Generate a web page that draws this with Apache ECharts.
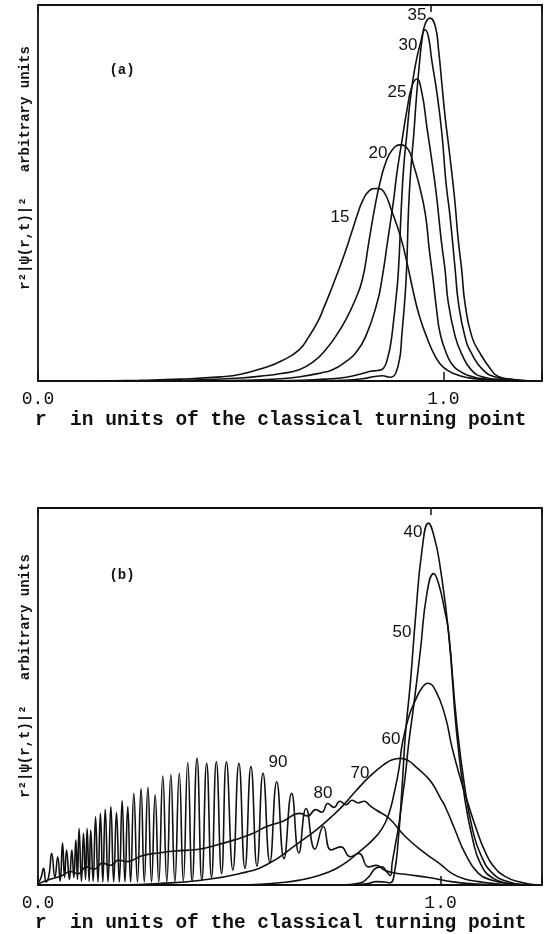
<!DOCTYPE html>
<html>
<head>
<meta charset="utf-8">
<script src="https://cdn.jsdelivr.net/npm/echarts@6/dist/echarts.min.js"></script>
<style>
  html, body { margin: 0; padding: 0; background: #fff; }
  #chart { width: 545px; height: 934px; }
</style>
</head>
<body>
<div id="chart"></div>
<script>
// panel (a): r in units of the classical turning point, height in % of the frame
const a15 = [[0.15,0],[0.25,0.2],[0.35,0.5],[0.45,1.1],[0.50,1.8],[0.56,3.6],[0.60,5.3],[0.644,8.3],[0.668,11.8],[0.69,15.8],[0.705,19.5],[0.72,23.5],[0.738,28.5],[0.755,33.5],[0.775,40.0],[0.79,45.0],[0.80,47.8],[0.816,50.5],[0.835,51.2],[0.853,50.3],[0.873,45.0],[0.894,38.4],[0.910,31.5],[0.925,24.0],[0.94,17.5],[0.96,11.3],[0.98,6.5],[1.0,3.6],[1.03,1.8],[1.06,0.9],[1.10,0.4],[1.15,0.1],[1.2,0]];
const a20 = [[0.2,0],[0.3,0.1],[0.4,0.3],[0.5,0.8],[0.55,1.3],[0.6,2.0],[0.644,3.0],[0.68,5.2],[0.71,8.4],[0.735,12.0],[0.76,16.5],[0.78,21.0],[0.80,27.0],[0.816,37.0],[0.832,47.0],[0.844,53.0],[0.857,57.9],[0.873,61.4],[0.894,62.8],[0.914,61.4],[0.926,57.5],[0.939,52.6],[0.955,44.6],[0.965,35.0],[0.975,26.5],[0.983,19.0],[0.992,12.5],[1.007,7.4],[1.02,4.6],[1.037,2.8],[1.06,1.5],[1.09,0.7],[1.13,0.2],[1.18,0]];
const a25 = [[0.4,0],[0.5,0.2],[0.6,0.6],[0.65,1.2],[0.70,2.2],[0.725,2.9],[0.76,5.2],[0.783,7.4],[0.808,11.8],[0.836,20.7],[0.848,26.9],[0.862,37.0],[0.877,48.1],[0.885,55.2],[0.898,64.1],[0.910,72.1],[0.922,78.3],[0.934,80.3],[0.947,76.5],[0.959,67.6],[0.971,58.8],[0.982,50.0],[0.995,37.0],[1.004,29.5],[1.012,20.7],[1.029,11.8],[1.044,7.4],[1.069,2.9],[1.10,1.0],[1.15,0.3],[1.2,0]];
const a30 = [[0.55,0],[0.65,0.2],[0.72,0.6],[0.76,1.0],[0.80,2.0],[0.82,2.6],[0.838,2.8],[0.852,3.4],[0.862,6.0],[0.870,10.0],[0.877,16.0],[0.883,22.0],[0.889,29.5],[0.896,46.0],[0.902,57.0],[0.910,66.0],[0.918,74.7],[0.930,83.6],[0.943,89.8],[0.955,93.4],[0.963,91.5],[0.971,85.4],[0.984,76.5],[0.996,65.9],[1.006,53.0],[1.016,44.0],[1.029,29.5],[1.037,20.7],[1.053,11.8],[1.069,7.4],[1.098,2.9],[1.13,1.0],[1.18,0.3],[1.22,0]];
const a35 = [[0.6,0],[0.7,0.1],[0.75,0.2],[0.80,0.6],[0.83,1.2],[0.85,1.4],[0.868,1.0],[0.878,1.4],[0.885,2.9],[0.890,5.0],[0.894,7.4],[0.897,11.8],[0.904,20.7],[0.909,29.5],[0.914,46.0],[0.920,57.0],[0.927,66.0],[0.933,75.0],[0.940,83.6],[0.947,90.7],[0.955,95.0],[0.967,96.5],[0.980,94.2],[0.988,88.0],[0.996,79.1],[1.004,70.3],[1.014,61.4],[1.027,49.0],[1.036,38.0],[1.045,29.5],[1.053,20.7],[1.070,11.8],[1.090,7.4],[1.118,2.9],[1.135,1.2],[1.17,0.4],[1.21,0]];

// panel (b)
const b40 = [[0.78,0],[0.82,0.4],[0.84,0.9],[0.86,0.8],[0.875,0.6],[0.885,3.0],[0.895,12.0],[0.905,27.0],[0.913,40.3],[0.925,53.6],[0.938,71.2],[0.954,88.9],[0.970,96.0],[0.985,92.0],[0.999,84.4],[1.02,66.8],[1.04,40.2],[1.06,23.0],[1.08,12.0],[1.10,5.5],[1.13,1.8],[1.17,0.4],[1.21,0]];
const b50 = [[0.75,0],[0.80,0.5],[0.82,2.0],[0.84,4.5],[0.855,4.8],[0.866,3.5],[0.875,2.5],[0.88,6.0],[0.89,12.0],[0.897,16.4],[0.905,23.0],[0.913,29.6],[0.921,37.7],[0.933,47.3],[0.950,62.3],[0.966,77.3],[0.983,82.6],[0.995,80.0],[1.01,73.0],[1.02,67.0],[1.04,43.0],[1.06,26.0],[1.08,14.5],[1.10,8.0],[1.13,3.0],[1.17,0.8],[1.21,0]];
const b60 = [[0.50,0],[0.55,0.2],[0.60,0.6],[0.65,1.3],[0.70,2.6],[0.74,4.3],[0.773,6.6],[0.80,9.0],[0.831,11.9],[0.855,15.0],[0.872,19.0],[0.885,24.5],[0.897,31.0],[0.905,37.5],[0.921,44.6],[0.938,49.1],[0.954,52.3],[0.968,53.5],[0.987,51.7],[1.012,44.6],[1.028,36.7],[1.05,28.0],[1.07,21.0],[1.09,14.5],[1.11,9.0],[1.13,5.2],[1.16,2.3],[1.20,0.7],[1.24,0]];
const b70 = [[0.20,0],[0.30,0.4],[0.40,1.2],[0.50,3.0],[0.57,5.5],[0.645,11.0],[0.69,14.5],[0.728,18.0],[0.757,21.0],[0.79,25.0],[0.826,29.0],[0.86,32.0],[0.88,33.2],[0.901,33.6],[0.92,33.0],[0.938,31.4],[0.96,29.3],[0.979,27.0],[1.0,23.0],[1.012,20.7],[1.036,14.6],[1.061,8.4],[1.094,3.1],[1.13,1.2],[1.17,0.4],[1.22,0]];
const b80 = [[0.00,0.3],[0.03,1.5],[0.06,2.5],[0.08,3.6],[0.10,3.0],[0.12,4.8],[0.14,4.2],[0.16,5.8],[0.18,5.2],[0.20,6.6],[0.22,6.2],[0.26,7.8],[0.30,8.5],[0.34,9.0],[0.40,9.5],[0.44,10.5],[0.486,11.9],[0.53,13.5],[0.568,15.5],[0.61,17.0],[0.65,19.0],[0.67,18.3],[0.69,20.0],[0.705,19.3],[0.72,21.6],[0.735,20.6],[0.75,22.2],[0.765,21.3],[0.78,22.5],[0.795,21.8],[0.81,22.2],[0.825,21.0],[0.84,19.9],[0.872,17.7],[0.913,12.8],[0.962,8.4],[1.0,5.5],[1.028,3.1],[1.06,1.6],[1.094,0.9],[1.15,0.2],[1.2,0]];
const b90 = [[0.000,0.5],[0.007,1.8],[0.014,4.4],[0.020,0.8],[0.027,2.5],[0.034,8.4],[0.042,2.0],[0.049,7.5],[0.055,1.0],[0.061,11.1],[0.066,2.0],[0.071,9.3],[0.078,1.5],[0.084,9.3],[0.089,2.0],[0.094,11.9],[0.098,1.5],[0.102,15.0],[0.108,1.0],[0.113,13.7],[0.118,1.5],[0.122,15.0],[0.127,1.0],[0.131,14.6],[0.137,1.0],[0.143,18.1],[0.149,0.8],[0.155,19.0],[0.161,0.8],[0.167,20.1],[0.174,0.8],[0.181,20.8],[0.188,0.8],[0.195,19.2],[0.202,0.8],[0.209,22.4],[0.216,0.8],[0.223,20.8],[0.230,0.8],[0.238,24.3],[0.247,0.8],[0.256,25.6],[0.264,0.8],[0.273,25.9],[0.282,0.8],[0.291,23.9],[0.300,0.8],[0.310,28.9],[0.320,0.8],[0.330,29.2],[0.340,0.8],[0.351,29.6],[0.361,1.0],[0.372,32.5],[0.383,1.0],[0.395,33.6],[0.407,1.2],[0.419,32.3],[0.431,2.0],[0.443,32.7],[0.456,3.0],[0.468,32.7],[0.484,4.0],[0.499,32.3],[0.514,4.4],[0.529,31.4],[0.544,5.0],[0.559,29.6],[0.576,6.0],[0.593,27.4],[0.611,7.0],[0.630,24.3],[0.648,8.5],[0.666,20.3],[0.688,9.5],[0.709,15.5],[0.728,9.3],[0.752,10.1],[0.776,7.5],[0.797,8.4],[0.821,4.8],[0.84,5.2],[0.86,4.0],[0.88,3.3],[0.92,2.7],[0.97,2.0],[1.02,1.0],[1.08,0.3],[1.15,0]];

const tickValues = [0, 1];
const curvesA = [['15', a15], ['20', a20], ['25', a25], ['30', a30], ['35', a35]];
const curvesB = [['40', b40], ['50', b50], ['60', b60], ['70', b70], ['80', b80], ['90', b90]];

const ink = '#111';
const mono = '"Liberation Mono", "DejaVu Sans Mono", monospace';
const sans = '"Liberation Sans", Arial, sans-serif';

function bottomAxis(grid, max) {
  return {
    type: 'value', gridIndex: grid, position: 'bottom', min: 0, max: max, interval: 1,
    axisLine: { show: false },
    axisTick: { show: true, inside: true, length: 9, lineStyle: { color: ink, width: 1.5 } },
    splitLine: { show: false },
    axisLabel: {
      margin: 9, color: ink, fontFamily: mono, fontSize: 18,
      formatter: v => (tickValues.indexOf(v) >= 0 ? v.toFixed(1) : '')
    }
  };
}
function topAxis(grid) {
  return {
    type: 'value', gridIndex: grid, position: 'top', min: 0, max: 1.284, interval: 1,
    axisLine: { show: false },
    axisTick: { show: true, inside: true, length: 7, lineStyle: { color: ink, width: 1.5 } },
    splitLine: { show: false }, axisLabel: { show: false }
  };
}
function valueAxis(grid) {
  return {
    type: 'value', gridIndex: grid, min: 0, max: 100,
    axisLine: { show: false }, axisTick: { show: false },
    axisLabel: { show: false }, splitLine: { show: false }
  };
}
function lines(list, xi, yi) {
  return list.map(([name, data]) => ({
    name: name, type: 'line', data: data, xAxisIndex: xi, yAxisIndex: yi,
    showSymbol: false, smooth: 0.5,
    lineStyle: { color: ink, width: 1.6 }, silent: true
  }));
}
function label(text, x, y, font) {
  return { type: 'text', x: x, y: y, silent: true,
    style: { text: text, font: font, fill: ink, align: 'center', verticalAlign: 'middle' } };
}

const chart = echarts.init(document.getElementById('chart'), null, { renderer: 'canvas' });
chart.setOption({
  animation: false,
  backgroundColor: '#fff',
  grid: [
    { left: 38, top: 5, width: 506, height: 376, show: true, borderColor: ink, borderWidth: 1.8 },
    { left: 38, top: 508, width: 506, height: 377, show: true, borderColor: ink, borderWidth: 1.8 }
  ],
  xAxis: [bottomAxis(0, 1.243), topAxis(0), bottomAxis(1, 1.252), topAxis(1)],
  yAxis: [valueAxis(0), valueAxis(1)],
  series: lines(curvesA, 0, 0).concat(lines(curvesB, 2, 1)),
  graphic: [
    label('35', 417, 15, '17px ' + sans),
    label('30', 408, 45, '17px ' + sans),
    label('25', 397, 92, '17px ' + sans),
    label('20', 378, 153, '17px ' + sans),
    label('15', 340, 217, '17px ' + sans),
    label('40', 413, 532, '17px ' + sans),
    label('50', 402, 632, '17px ' + sans),
    label('60', 391, 739, '17px ' + sans),
    label('70', 360, 773, '17px ' + sans),
    label('80', 323, 793, '17px ' + sans),
    label('90', 278, 762, '17px ' + sans),
    label('(a)', 122, 70, 'bold 14px ' + mono),
    label('(b)', 122, 575, 'bold 14px ' + mono),
    Object.assign(label('r²|ψ(r,t)|²   arbitrary units', 25, 168, 'bold 14px ' + mono), { rotation: Math.PI / 2 }),
    Object.assign(label('r²|ψ(r,t)|²   arbitrary units', 25, 676, 'bold 14px ' + mono), { rotation: Math.PI / 2 }),
    { type: 'text', x: 35, y: 420, silent: true,
      style: { text: 'r  in units of the classical turning point', font: 'bold 19.5px ' + mono, fill: ink, align: 'left', verticalAlign: 'middle' } },
    { type: 'text', x: 35, y: 923, silent: true,
      style: { text: 'r  in units of the classical turning point', font: 'bold 19.5px ' + mono, fill: ink, align: 'left', verticalAlign: 'middle' } }
  ]
});
window.addEventListener('resize', () => chart.resize());
</script>
</body>
</html>
